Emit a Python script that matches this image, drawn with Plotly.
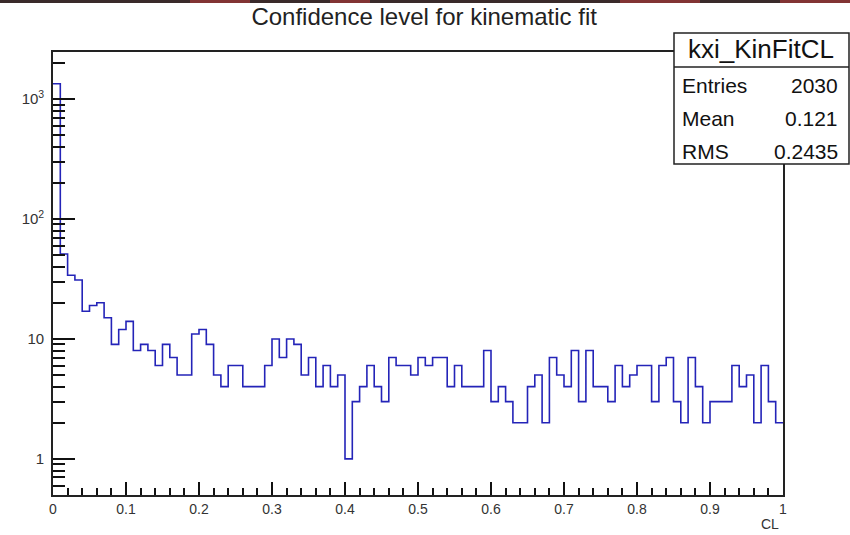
import numpy as np
import plotly.graph_objects as go

# ---- data ----
n_bins = 100
x_min, x_max = 0.0, 1.0
counts = [
    1342, 51, 34, 31, 17, 19, 20, 15, 9, 12,
    14, 8, 9, 8, 6, 9, 7, 5, 5, 11,
    12, 9, 5, 4, 6, 6, 4, 4, 4, 6,
    10, 7, 10, 9, 5, 7, 4, 6, 4, 5,
    1, 3, 4, 6, 4, 3, 7, 6, 6, 5,
    7, 6, 7, 7, 4, 6, 4, 4, 4, 8,
    3, 4, 3, 2, 2, 4, 5, 2, 7, 5,
    4, 8, 3, 8, 4, 4, 3, 6, 4, 5,
    6, 6, 3, 6, 7, 3, 2, 7, 4, 2,
    3, 3, 3, 6, 4, 5, 2, 6, 3, 2,
]
hist_name = "kxi_KinFitCL"
stats_labels = ["Entries", "Mean", "RMS"]
stats_values = ["2030", "0.121", "0.2435"]
x_tick_vals = [0, 0.1, 0.2, 0.3, 0.4, 0.5, 0.6, 0.7, 0.8, 0.9, 1]
x_tick_text = ["0", "0.1", "0.2", "0.3", "0.4", "0.5", "0.6", "0.7", "0.8", "0.9", "1"]
y_tick_vals = [1, 10, 100, 1000]
y_tick_text = ["1", "10", "10<sup>2</sup>", "10<sup>3</sup>"]
title_text = "Confidence level for kinematic fit"
x_title = "CL"

# ---- geometry helpers ----
W, H = 850, 535
L, R, T, B = 53, 67, 52, 40
pw, ph = W - L - R, H - T - B


def px_x(p):
    return (p - L) / pw


def px_y(p):
    return (H - B - p) / ph


edges = np.linspace(x_min, x_max, n_bins + 1)
step_x = list(edges)
step_y = list(counts) + [counts[-1]]

minor_y = []
for dec in [0.1, 1, 10, 100, 1000]:
    for m in range(2, 10):
        v = m * dec
        if 0.5 <= v <= 2400:
            minor_y.append(v)

FONT = "Liberation Sans, Arial, Helvetica, sans-serif"
TICKC = "#111"
fig = go.Figure()
fig.add_trace(go.Scatter(
    x=step_x, y=step_y, mode="lines", line_shape="hv",
    line=dict(color="#2424b8", width=1.6), hoverinfo="skip", showlegend=False,
))

fig.update_layout(
    width=W, height=H,
    margin=dict(l=L, r=R, t=T, b=B),
    paper_bgcolor="white", plot_bgcolor="white",
    font=dict(family=FONT, color="#222"),
    title=dict(text=title_text, x=0.499, xref="container", xanchor="center",
               y=1 - 17 / H, yref="container", yanchor="middle",
               font=dict(size=24, color="#222", family=FONT)),
    showlegend=False,
)
fig.update_xaxes(
    range=[x_min, x_max], showgrid=False, zeroline=False,
    showline=True, linecolor="#222", linewidth=1.6, mirror=True,
    ticks="inside", ticklen=13, tickwidth=1.5, tickcolor=TICKC,
    tickvals=x_tick_vals, ticktext=x_tick_text,
    tickfont=dict(size=14, color="#333"),
    minor=dict(dtick=0.02, tick0=0, ticks="inside", ticklen=7, tickwidth=1.5, tickcolor=TICKC, showgrid=False),
)
fig.update_yaxes(
    type="log", range=[np.log10(0.5), 3.392], showgrid=False, zeroline=False,
    showline=True, linecolor="#222", linewidth=1.6, mirror=True,
    ticks="inside", ticklen=22, tickwidth=1.5, tickcolor=TICKC,
    tickvals=y_tick_vals, ticktext=y_tick_text,
    tickfont=dict(size=15, color="#333"), ticklabelstandoff=4,
    minor=dict(tickmode="array", tickvals=minor_y, ticks="inside", ticklen=12, tickwidth=1.5, tickcolor=TICKC, showgrid=False),
)

# axis title at right end
fig.add_annotation(text=x_title, xref="paper", yref="paper", x=px_x(781), y=px_y(524),
                   xanchor="right", yanchor="middle", showarrow=False,
                   font=dict(size=14, color="#333", family=FONT))

# top window strip
fig.add_shape(type="rect", xref="paper", yref="paper", x0=px_x(0), x1=px_x(W), y0=px_y(3), y1=px_y(0),
              fillcolor="#3a2a2a", line=dict(width=0), layer="above")
for a, b in [(190, 250), (330, 370), (620, 700), (780, 850)]:
    fig.add_shape(type="rect", xref="paper", yref="paper", x0=px_x(a), x1=px_x(b), y0=px_y(3), y1=px_y(0),
                  fillcolor="rgba(190,60,60,0.55)", line=dict(width=0), layer="above")

# stats box
bx0, bx1, by0, by1, bsep = 674, 849, 33, 164, 67
fig.add_shape(type="rect", xref="paper", yref="paper", x0=px_x(bx0), x1=px_x(bx1),
              y0=px_y(by1), y1=px_y(by0), fillcolor="white",
              line=dict(color="#222", width=1.5), layer="above")
fig.add_shape(type="line", xref="paper", yref="paper", x0=px_x(bx0), x1=px_x(bx1),
              y0=px_y(bsep), y1=px_y(bsep), line=dict(color="#222", width=1.5), layer="above")
fig.add_annotation(text=hist_name, xref="paper", yref="paper", x=px_x((bx0 + bx1) / 2 - 1), y=px_y(49),
                   xanchor="center", yanchor="middle", showarrow=False,
                   font=dict(size=26, color="#111", family=FONT))
row_y = [86, 118, 151]
for lab, val, ry in zip(stats_labels, stats_values, row_y):
    fig.add_annotation(text=lab, xref="paper", yref="paper", x=px_x(680), y=px_y(ry),
                       xanchor="left", yanchor="middle", showarrow=False,
                       font=dict(size=21, color="#111", family=FONT))
    fig.add_annotation(text=val, xref="paper", yref="paper", x=px_x(840), y=px_y(ry),
                       xanchor="right", yanchor="middle", showarrow=False,
                       font=dict(size=21, color="#111", family=FONT))

fig.write_html("out.html")
